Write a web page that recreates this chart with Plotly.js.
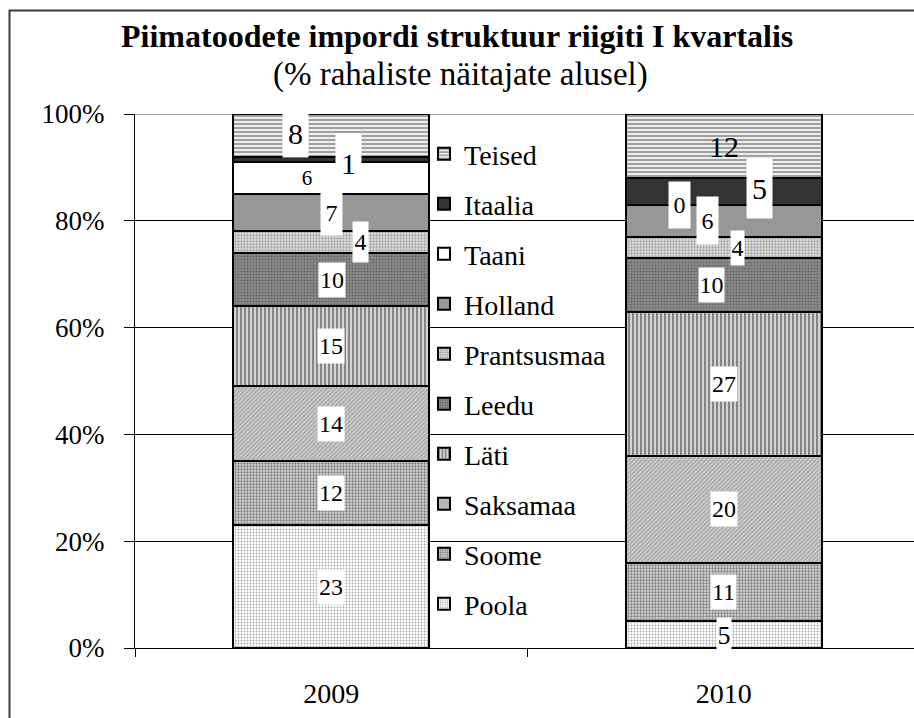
<!DOCTYPE html>
<html>
<head>
<meta charset="utf-8">
<script src="https://cdn.plot.ly/plotly-3.0.1.min.js"></script>
<style>html,body{margin:0;padding:0;background:#fff;}#chart{width:914px;height:718px;}</style>
</head>
<body>
<div id="chart"></div>
<script>
// ---- data ----
const years = ['2009', '2010'];
const seriesNames = ['Poola', 'Soome', 'Saksamaa', 'Läti', 'Leedu', 'Prantsusmaa', 'Holland', 'Taani', 'Itaalia', 'Teised'];
const values2009 = [23, 12, 14, 15, 10, 4, 7, 6, 1, 8];
const values2010 = [5, 11, 20, 27, 10, 4, 6, 0, 5, 12];
const yTickValues = [0, 20, 40, 60, 80, 100];
const yTickLabels = ['0%', '20%', '40%', '60%', '80%', '100%'];
const titleText = 'Piimatoodete impordi struktuur riigiti I kvartalis';
const subtitleText = '(% rahaliste näitajate alusel)';

// ---- styles ----
const fills = [
  {color: '#ffffff', pattern: {shape: '.', fgcolor: '#a8a8a8', bgcolor: '#ffffff', size: 3, solidity: 0.3}},
  {color: '#bbbbbb', pattern: {shape: '.', fgcolor: '#7a7a7a', bgcolor: '#d8d8d8', size: 3, solidity: 0.45}},
  {color: '#c0c0c0', pattern: {shape: '/', fgcolor: '#a4a4a4', bgcolor: '#cdcdcd', size: 3, solidity: 0.45}},
  {color: '#a0a0a0', pattern: {shape: '|', fgcolor: '#858585', bgcolor: '#ffffff', size: 4, solidity: 0.68}},
  {color: '#808080', pattern: {shape: '.', fgcolor: '#666666', bgcolor: '#8c8c8c', size: 3, solidity: 0.4}},
  {color: '#cccccc', pattern: {shape: '.', fgcolor: '#a0a0a0', bgcolor: '#e2e2e2', size: 3, solidity: 0.45}},
  {color: '#979797', pattern: {shape: ''}},
  {color: '#ffffff', pattern: {shape: ''}},
  {color: '#333333', pattern: {shape: ''}},
  {color: '#d0d0d0', pattern: {shape: '-', fgcolor: '#a0a0a0', bgcolor: '#ececec', size: 4, solidity: 0.5}}
];
// label placement tweaks per year/series: dx, dy (screen px, down positive), font size, white box, box w, box h
const labelStyle2009 = [
  [0, 0, 24, true, 26, 34], [0, 0, 24, true, 26, 34], [0, 0, 24, true, 26, 34], [0, 0, 24, true, 26, 34],
  [1, 0, 24, true, 26, 34], [29, 0, 24, true, 15, 40], [0, 0, 24, true, 21, 44], [-24, 0, 21, false, 14, 30],
  [17, 4, 30, true, 25, 58], [-36, -2, 30, true, 25, 48]
];
const labelStyle2010 = [
  [0, 0, 26, true, 14, 34], [0, 0, 24, true, 25, 34], [0, 0, 24, true, 26, 34], [0, 0, 24, true, 26, 34],
  [-12, 0, 24, true, 25, 34], [14, 0, 24, true, 13, 34], [-16, 0, 24, true, 21, 47], [-44, 0, 24, true, 21, 46],
  [36, -3, 30, true, 25, 59], [0, 0, 30, false, 30, 36]
];

const FONT = 'Liberation Serif';

const traces = seriesNames.map((name, i) => ({
  type: 'bar',
  name: name,
  x: years,
  y: [values2009[i], values2010[i]],
  width: 0.5,
  legendgroup: 'g' + i,
  legendrank: 100 - i,
  marker: {
    color: fills[i].color,
    pattern: fills[i].pattern,
    line: {color: '#000000', width: 2}
  },
  hoverinfo: 'skip'
}));

// data labels at the middle of each stacked segment
const annotations = [];
[[values2009, labelStyle2009, 0], [values2010, labelStyle2010, 1]].forEach(([vals, styles, xi]) => {
  let cum = 0;
  vals.forEach((v, i) => {
    const mid = cum + v / 2;
    cum += v;
    const s = styles[i];
    annotations.push({
      x: xi, y: mid, xref: 'x', yref: 'y',
      text: String(v), showarrow: false,
      xshift: s[0], yshift: -s[1],
      font: {family: FONT, size: s[2], color: '#000'},
      bgcolor: s[3] ? '#ffffff' : 'rgba(0,0,0,0)',
      width: s[4], height: s[5], borderpad: 0,
      xanchor: 'center', yanchor: 'middle'
    });
  });
});
annotations.push({
  text: '<b>' + titleText + '</b>', xref: 'paper', yref: 'paper',
  x: (457 - 135) / 779, y: (648 - 36) / 534, showarrow: false,
  xanchor: 'center', yanchor: 'middle',
  font: {family: FONT, size: 32, color: '#000'}
});
annotations.push({
  text: subtitleText, xref: 'paper', yref: 'paper',
  x: (460 - 135) / 779, y: (648 - 75) / 534, showarrow: false,
  xanchor: 'center', yanchor: 'middle',
  font: {family: FONT, size: 33, color: '#000'}
});

const layout = {
  width: 914, height: 718,
  margin: {l: 135, r: 0, t: 114, b: 70, pad: 0},
  paper_bgcolor: '#ffffff', plot_bgcolor: '#ffffff',
  font: {family: FONT, color: '#000'},
  barmode: 'stack',
  showlegend: true,
  legend: {
    x: (424 - 135) / 779, xanchor: 'left',
    y: (648 - 129) / 534, yanchor: 'top',
    bgcolor: 'rgba(0,0,0,0)', borderwidth: 0,
    font: {family: FONT, size: 28, color: '#000'},
    traceorder: 'grouped',
    tracegroupgap: 10.6
  },
  xaxis: {
    type: 'category',
    range: [-0.5, 1.485],
    showline: true, linecolor: '#000', linewidth: 1,
    ticks: 'outside', tickson: 'boundaries', ticklen: 8, tickcolor: '#000',
    showgrid: false, zeroline: false,
    tickfont: {family: FONT, size: 28, color: '#000'},
    ticklabelstandoff: 20,
    fixedrange: true
  },
  yaxis: {
    range: [0, 100],
    tickvals: yTickValues, ticktext: yTickLabels,
    showline: true, linecolor: '#000', linewidth: 1,
    ticks: 'outside', ticklen: 10, tickcolor: '#000',
    showgrid: true, gridcolor: '#000', gridwidth: 1,
    zeroline: false,
    tickfont: {family: FONT, size: 27, color: '#000'},
    ticklabelstandoff: 14,
    fixedrange: true
  },
  shapes: [
    {type: 'rect', xref: 'paper', yref: 'y', layer: 'between',
     x0: (431 - 135) / 779, x1: (616 - 135) / 779, y0: 5, y1: 95,
     fillcolor: '#ffffff', line: {width: 0}},
    {type: 'line', xref: 'paper', yref: 'y', layer: 'between',
     x0: 0, x1: 1, y0: 100, y1: 100,
     line: {color: '#7a7a7a', width: 1.5}},
    {type: 'rect', xref: 'paper', yref: 'paper', layer: 'above',
     x0: (9.5 - 135) / 779, x1: 1.3, y0: -0.4, y1: (648 - 10.5) / 534,
     fillcolor: 'rgba(0,0,0,0)', line: {color: '#3a3a3a', width: 2}}
  ],
  annotations: annotations
};

Plotly.newPlot('chart', traces, layout, {displayModeBar: false, staticPlot: true});
</script>
</body>
</html>
